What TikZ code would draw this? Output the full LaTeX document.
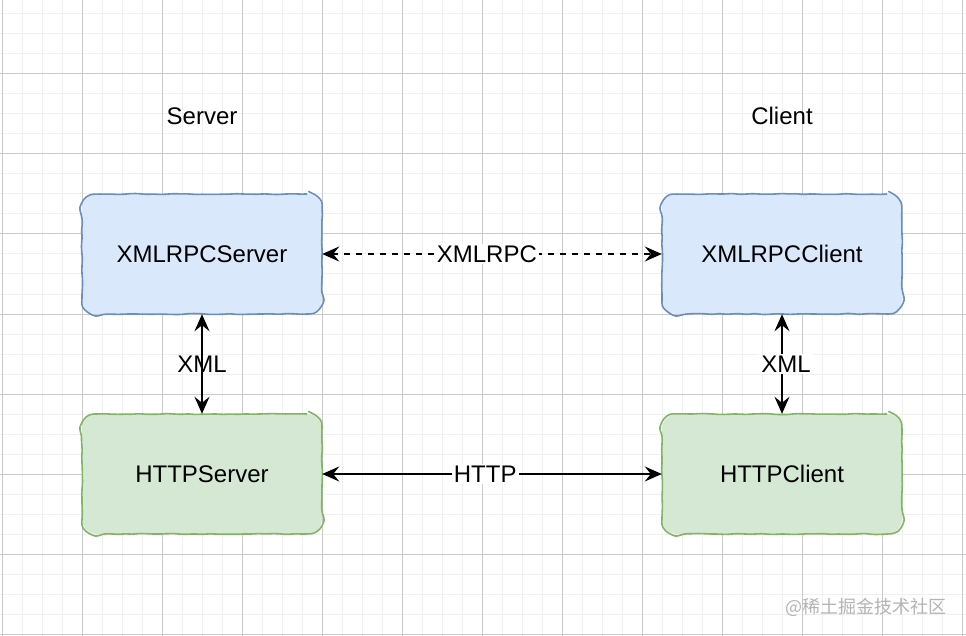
\documentclass[tikz,border=0pt]{standalone}
\usepackage{fontspec}
\setmainfont{Liberation Sans}
\newfontfamily\cjk{Noto Sans CJK SC}
\usetikzlibrary{arrows.meta}
\usetikzlibrary{decorations.pathmorphing}
\usepackage{xcolor}
\definecolor{rpcfill}{HTML}{DAE8FC}
\definecolor{rpcline}{HTML}{6C8EBF}
\definecolor{httpfill}{HTML}{D5E8D4}
\definecolor{httpline}{HTML}{82B366}
\definecolor{gridminor}{HTML}{F0F0F0}
\definecolor{gridmajor}{HTML}{CACACA}
\definecolor{markgray}{HTML}{B4B4B4}

\begin{document}
\pgfmathsetseed{7}
\begin{tikzpicture}[x=1pt,y=-1pt,
    box/.style={rectangle, minimum width=240pt, minimum height=120pt, rounded corners=15pt,
        font=\fontsize{24}{28}\selectfont},
    rpcbox/.style={box, fill=rpcfill, postaction={draw=rpcline, line width=1.6pt, rounded corners=3pt, decorate,
        decoration={random steps, segment length=7pt, amplitude=0.55pt}}},
    httpbox/.style={box, fill=httpfill, postaction={draw=httpline, line width=1.6pt, rounded corners=3pt, decorate,
        decoration={random steps, segment length=7pt, amplitude=0.55pt}}},
    flow/.style={line width=2pt, {Stealth[length=17pt,width=15pt,inset=6pt]}-{Stealth[length=17pt,width=15pt,inset=6pt]}},
    lbl/.style={font=\fontsize{24}{28}\selectfont, inner sep=2pt}]
            % background grid
            \fill[white] (0,0) rectangle (966,636);
            \useasboundingbox (0,0) rectangle (966,636);
            \foreach \x in {2,22,...,962} \draw[gridminor, line width=1pt] (\x,0) -- (\x,636);
            \foreach \y in {14,34,...,634} \draw[gridminor, line width=1pt] (0,\y) -- (966,\y);
            \foreach \x in {2,82,...,962} \draw[gridmajor, line width=1pt] (\x,0) -- (\x,636);
            \foreach \y in {74,154,...,634} \draw[gridmajor, line width=1pt] (0,\y) -- (966,\y);

            % column titles
            \node[lbl] (server) at (202,116) {Server};
            \node[lbl] (client) at (782,116) {Client};

            % boxes
            \node[rpcbox] (xserver) at (202,254) {XMLRPCServer};
            \node[rpcbox] (xclient) at (782,254) {XMLRPCClient};
            \node[httpbox] (hserver) at (202,474) {HTTPServer};
            \node[httpbox] (hclient) at (782,474) {HTTPClient};

            % links
            \draw[flow, dash pattern=on 6pt off 6pt] (xserver) -- node[lbl, pos=0.485, fill=white] {XMLRPC} (xclient);
            \draw[flow] (hserver) -- node[lbl, pos=0.48, fill=white] {HTTP} (hclient);
            \draw[flow] (xserver) -- node[lbl] {XML} (hserver);
            \draw[flow] (xclient) -- node[lbl, fill=white, xshift=4pt] {XML} (hclient);

            % watermark
            \node[font=\cjk\fontsize{18}{20}\selectfont, text=markgray] (mark) at (866,607) {@稀土掘金技术社区};
        \end{tikzpicture}
\end{document}
